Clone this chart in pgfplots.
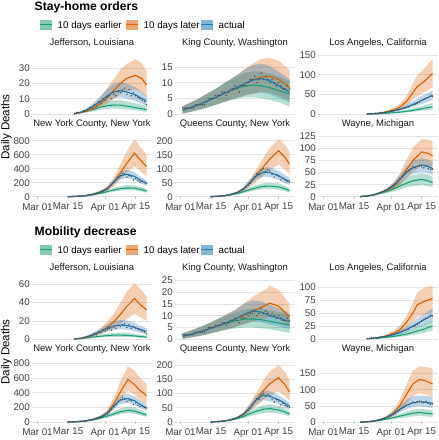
\documentclass[border=0pt]{standalone}
\usepackage{pgfplots}
\pgfplotsset{compat=1.18}
\usepackage{pgfplotstable}
\usepgfplotslibrary{fillbetween}
\usepackage{fontspec}
\setmainfont{Liberation Sans}
\definecolor{cG}{HTML}{1B9E77}
\definecolor{cO}{HTML}{D95F02}
\definecolor{cB}{HTML}{1F78B4}

% ---------------- observed deaths (shared by both sections) ----------------
\pgfplotstableread{
d y
17 0
18 1
19 1
20 1
21 2
22 2
23 3
24 4
25 4
26 6
27 5
28 8
29 7
30 10
31 9
32 11
33 12
34 10
35 13
36 12
37 15
38 14
39 16
40 17
41 13
42 16
43 12
44 14
45 12
46 11
47 10
48 9
49 8
50 6
}\obsJef
\pgfplotstableread{
d y
1 2
2 2
3 2
4 2
5 2
6 2
7 3
8 3
9 3
10 3
11 3
12 4
13 5
14 5
15 5
16 6
17 6
18 6
19 7
20 7
21 6
22 7
23 8
24 8
25 9
26 8
27 7
28 9
29 9
30 9
31 10
32 11
33 11
34 12
35 10
36 11
37 13
38 11
39 12
40 11
41 10
42 11
43 10
44 9
45 10
46 9
47 8
48 8
49 9
50 8
}\obsKing
\pgfplotstableread{
d y
20 1
21 1
22 2
23 2
24 3
25 2
26 4
27 4
28 5
29 6
30 6
31 8
32 9
33 10
34 11
35 12
36 14
37 16
38 17
39 19
40 22
41 24
42 25
43 28
44 31
45 35
46 38
47 40
48 42
49 46
50 45
}\obsLA
\pgfplotstableread{
d y
14 0
15 2
16 3
17 5
18 5
19 8
20 10
21 12
22 15
23 20
24 25
25 30
26 35
27 45
28 55
29 65
30 75
31 95
32 110
33 140
34 170
35 210
36 240
37 280
38 300
39 330
40 320
41 280
42 300
43 290
44 240
45 260
46 230
47 210
48 220
49 200
50 190
}\obsNYC
\pgfplotstableread{
d y
14 0
15 0
16 1
17 1
18 2
19 3
20 3
21 5
22 6
23 8
24 10
25 12
26 15
27 18
28 22
29 27
30 33
31 40
32 48
33 60
34 72
35 82
36 80
37 95
38 100
39 90
40 96
41 92
42 80
43 70
44 78
45 72
46 60
47 65
48 58
49 55
50 52
}\obsQueens
\pgfplotstableread{
d y
17 0
18 1
19 1
20 2
21 2
22 3
23 4
24 5
25 7
26 9
27 10
28 12
29 15
30 18
31 20
32 24
33 28
34 33
35 38
36 42
37 47
38 52
39 55
40 58
41 62
42 60
43 63
44 65
45 62
46 60
47 64
48 58
49 56
50 57
}\obsWayne

% ---------------- Stay-home orders: model fits ----------------
\pgfplotstableread{
d g gl gu o ol ou b bl bu
17 0.3 0.2 0.4 0.3 0.2 0.4 0.3 0.2 0.4
20 1 0.6 1.5 1 0.6 1.6 1.2 0.7 1.8
23 2 1.2 3 2.2 1.3 3.5 3 2 4.3
26 3.2 2 5 4 2.5 6.5 5.5 3.5 8
29 4.5 2.8 7 7 4.5 11 8.5 6 12
32 5.5 3.4 8.5 11 7 17 12 8.5 16.5
35 5.9 3.6 9 15.5 10 23 14.5 10.5 20
38 5.8 3.4 9 20 13 29 15.3 11 21
41 5.2 3 8.2 23.5 15 33 14.5 10 20
45 4.2 2.4 7 25.4 16 36 12.5 8.5 17.5
48 3.4 1.9 6 23 14 33 10 6.5 14
50 2.8 1.5 5 19 11 28 8.5 5.5 12
}\tSjef
\pgfplotstableread{
d g gl gu o ol ou b bl bu
1 1.3 0.2 2.6 1.3 0.2 2.6 1.3 0.2 2.6
5 2.2 0.8 3.8 2.2 0.8 3.8 2.2 0.8 3.8
9 3.2 1.5 5.2 3.2 1.5 5.2 3.2 1.5 5.2
13 4.4 2.3 6.8 4.4 2.3 6.8 4.4 2.3 6.8
17 5.6 3.2 8.4 5.6 3.2 8.4 5.6 3.2 8.4
21 6.9 4.1 10.2 6.9 4.1 10.2 6.9 4.1 10.2
25 8.0 4.8 11.8 8.2 5 12 8.2 5 12
29 8.9 5.3 13 9.5 5.8 14 9.6 5.9 14
33 9.2 5.4 13.6 10.8 6.5 16 10.8 6.6 15.5
37 9.0 5.1 13.5 11.8 7 17.5 11.3 6.9 16
41 8.4 4.5 13 12 6.8 17.8 10.6 6.3 15.2
45 7.5 3.8 12 11 6 17 9 5.2 13.5
50 6.4 2.5 10.5 8.5 4.3 14 7 3.8 11
}\tSking
\pgfplotstableread{
d g gl gu o ol ou b bl bu
20 0.5 0.3 0.8 0.5 0.3 0.8 0.5 0.3 0.8
24 1.2 0.7 1.8 2 1.2 3 2 1.4 2.8
28 2.5 1.5 3.8 5 3 7.5 4.5 3.2 6
32 4 2.5 6 11 7 16 8.5 6 11.5
35 5.5 3.5 8.5 18 12 26 13 9 17
38 7.5 4.8 11 32 21 46 18 13 24
41 10 6.5 15 55 36 78 25 18 33
43 12 7.8 18 70 46 98 30 22 40
46 15 9.5 22 82 55 115 38 28 49
50 19 12 29 103 68 140 48 36 60
}\tSla
\pgfplotstableread{
d g gl gu o ol ou b bl bu
14 1 0.5 1.5 1 0.5 1.5 1 0.5 1.5
18 4 3 5 5 3 7 5 4 6
22 12 9 15 15 10 20 15 12 18
26 30 22 40 40 28 55 40 33 48
29 50 37 65 70 50 95 70 58 85
32 72 54 95 110 80 150 115 95 140
35 95 72 125 205 150 270 210 175 250
38 115 87 150 340 250 460 300 250 360
41 125 95 165 480 350 650 320 265 385
44.5 122 92 160 620 440 820 290 240 350
47 105 78 140 530 370 720 240 195 290
50 80 58 110 430 290 600 190 150 235
}\tSnyc
\pgfplotstableread{
d g gl gu o ol ou b bl bu
14 0.5 0.3 0.8 0.5 0.3 0.8 0.5 0.3 0.8
18 2 1.4 2.6 2 1.4 2.6 2 1.5 2.5
22 5 3.5 6.5 6 4 8 6 4.5 7.5
26 11 8 14 15 11 19 15 12 18
29 18 13 23 28 20 36 28 22 34
32 26 19 34 50 36 65 52 42 62
35 32 23 42 78 55 100 75 62 90
38 37 27 48 107 75 140 88 72 105
41 38 27 50 135 95 175 86 70 104
45 35 25 47 164 115 205 75 60 92
48 28 19 38 140 97 185 62 48 77
50 22 15 30 116 80 160 55 42 68
}\tSqueens
\pgfplotstableread{
d g gl gu o ol ou b bl bu
17 0.5 0.3 0.8 0.5 0.3 0.8 0.5 0.3 0.8
20 1.4 1 2 1.5 1 2 1.5 1.1 2
23 3.5 2.5 5 4 2.8 5.5 4 3 5
26 7 5 9.5 8 5.5 11 8 6 10
29 11 7.5 15 13 9 18 14 10.5 17
32 16 11 22 20 14 28 23 17 29
35 22 15 30 35 24 48 36 27 45
38 28 19 38 56 38 76 50 38 62
41 33 22 45 75 52 102 60 47 74
45 36 24 49 93 64 120 66 52 80
48 33 22 46 90 60 118 63 49 77
50 29 19 41 85 56 115 58 45 72
}\tSwayne

% ---------------- Mobility decrease: model fits ----------------
\pgfplotstableread{
d g gl gu o ol ou b bl bu
17 0.3 0.2 0.4 0.3 0.2 0.4 0.3 0.2 0.4
20 0.8 0.5 1.2 1 0.6 1.5 1.2 0.7 1.8
23 1.6 1 2.4 2.5 1.6 3.5 3 2 4.3
26 2.5 1.5 3.8 5 3.3 7 5.5 3.5 8
29 3.3 2 5 8.5 5.5 12 8.5 6 12
32 4 2.4 6.2 13 8.5 19 12 8.5 16.5
35 4.5 2.7 7 19 12 28 14.5 10.5 20
38 4.6 2.7 7.3 27 17 40 15.5 11 21
41 4.3 2.5 7 36 22 52 15 10.5 20.5
44.5 3.6 2.1 6 44.5 28 61 13 9 18
47 3 1.7 5 38 24 55 11 7 15
50 2.3 1.3 4 32 20 47 8.5 5.5 12
}\tMjef
\pgfplotstableread{
d g gl gu o ol ou b bl bu
1 1.3 0.2 2.6 1.3 0.2 2.6 1.3 0.2 2.6
5 2.2 0.8 3.8 2.2 0.8 3.8 2.2 0.8 3.8
9 3.2 1.5 5.2 3.2 1.5 5.2 3.2 1.5 5.2
13 4.4 2.3 6.8 4.4 2.3 6.8 4.4 2.3 6.8
17 5.6 3.2 8.4 5.6 3.2 8.6 5.6 3.2 8.6
21 6.8 4 10 7 4.2 10.5 7 4.2 10.5
25 7.8 4.6 11.5 8.5 5.2 12.5 8.5 5.2 12.5
29 8.5 5 12.5 10 6.3 15 10.5 6.5 15
33 8.6 5 13 12 7.5 18 12 7.5 16.5
37 8.3 4.7 12.8 13.5 8.5 20 11.5 7.2 16
41 7.6 4.2 12.2 15.3 9.5 22.5 10 6.2 14.5
45 6.9 3.6 11.5 14 8.5 21 9 5.5 13.2
50 6 2.8 10.5 9.5 5.5 15 7.5 4.3 11
}\tMking
\pgfplotstableread{
d g gl gu o ol ou b bl bu
20 0.5 0.3 0.8 0.5 0.3 0.8 0.5 0.3 0.8
24 1.3 0.8 2 2 1.2 3 2 1.4 2.8
28 2.8 1.7 4 5 3 7.5 4.5 3.2 6
32 5 3 7.5 11 7 16 8.5 6 11.5
35 7 4.3 10.5 18 12 26 13 9 17
38 9.5 6 14 32 21 44 18 13 24
41 13 8 19 50 33 70 25 18 33
43 15.5 9.5 23 66 43 90 30 22 40
46 19 12 28 72 47 98 37 27 48
50 25 16 35 78 52 103 46 34 59
}\tMla
\pgfplotstableread{
d g gl gu o ol ou b bl bu
14 1 0.5 1.5 1 0.5 1.5 1 0.5 1.5
18 4 3 5 5 3 7 5 4 6
22 12 9 15 15 10 20 15 12 18
26 32 24 42 40 28 55 40 33 48
29 55 41 72 72 50 95 72 58 85
32 80 60 105 125 90 165 120 95 145
35 110 82 145 250 180 330 220 180 265
38 140 105 185 410 300 560 300 245 360
41.5 160 120 210 580 430 760 320 260 385
44.5 150 112 198 510 370 700 290 235 350
47 125 93 165 430 300 600 240 190 295
50 95 70 128 360 240 520 190 150 235
}\tMnyc
\pgfplotstableread{
d g gl gu o ol ou b bl bu
14 0.5 0.3 0.8 0.5 0.3 0.8 0.5 0.3 0.8
18 2 1.4 2.6 2 1.4 2.6 2 1.5 2.5
22 5 3.5 6.5 6 4 8 6 4.5 7.5
26 12 9 15 15 11 19 15 12 18
29 20 14 26 28 20 36 28 22 34
32 30 21 39 52 37 68 52 42 62
35 38 27 50 80 56 105 80 65 95
38 45 32 59 110 77 145 95 77 113
41 47 33 62 135 95 178 90 72 108
45 42 30 57 155 108 200 78 62 94
48 35 24 47 130 90 175 65 51 79
50 28 19 38 105 72 145 55 43 68
}\tMqueens
\pgfplotstableread{
d g gl gu o ol ou b bl bu
17 0.5 0.3 0.8 0.5 0.3 0.8 0.5 0.3 0.8
20 1.3 0.9 1.8 1.5 1 2 1.5 1.1 2
23 3 2 4 4 2.8 5.5 4 3 5
26 6 4 8 8 5.5 11 8 6 10
29 10 6.5 13 15 10 20 15 11 19
32 14 9 19 28 19 38 26 19 34
35 19 12.5 26 52 35 70 40 30 52
38 24 16 33 85 57 115 52 40 68
41 28 18 38 118 80 160 60 47 80
44 30 20 41 132 90 172 63 49 82
47 28 18 40 127 85 170 62 47 82
50 26 16 37 118 78 165 58 44 78
}\tMwayne

\pgfplotsset{
  panel/.style={
    scale only axis, width=120bp, height=63bp,
    anchor=north west,
    xmin=-2.5, xmax=52.5,
    axis line style={draw=none},
    xtick={0,14,31,45},
    xticklabels={Mar 01,Mar 15,Apr 01,Apr 15},
    ymajorgrids,
    grid style={color=black!11, line width=0.6bp},
    tick style={color=black!22, line width=0.6bp},
    major tick length=3bp,
    tick align=inside,
    tick pos=left,
    ytick style={draw=none},
    ticklabel style={font=\fontsize{9.8}{11}\selectfont, color=black!75, inner sep=0pt},
    yticklabel style={xshift=-2bp},
    xticklabel style={anchor=north, yshift=-4bp},
    /pgf/number format/assume math mode=true,
    title style={font=\fontsize{9.5}{11}\selectfont, color=black!90, at={(0.5,1)}, anchor=base, yshift=3.5bp, inner sep=0pt},
  },
  row1/.style={xticklabels={}, xtick style={draw=none}},
  row2/.style={},
}

\newcommand{\panel}[9]{%
\begin{axis}[panel, at={(#1bp,-#2bp)}, ymin=#3, ymax=#4, ytick={#5}, title={#6}, #9]
\addplot[draw=none, name path=gu] table[x=d,y=gu]{#7};
\addplot[draw=none, name path=gl] table[x=d,y=gl]{#7};
\addplot[draw=none, name path=ou] table[x=d,y=ou]{#7};
\addplot[draw=none, name path=ol] table[x=d,y=ol]{#7};
\addplot[draw=none, name path=bu] table[x=d,y=bu]{#7};
\addplot[draw=none, name path=bl] table[x=d,y=bl]{#7};
\addplot[fill=cG, fill opacity=0.33, draw=none] fill between[of=gu and gl];
\addplot[fill=cO, fill opacity=0.3, draw=none] fill between[of=ou and ol];
\addplot[fill=cB, fill opacity=0.3, draw=none] fill between[of=bu and bl];
\addplot[cG, line width=1.1bp] table[x=d,y=g]{#7};
\addplot[cO, line width=1.1bp] table[x=d,y=o]{#7};
\addplot[cB, line width=1.1bp] table[x=d,y=b]{#7};
\addplot[only marks, mark=*, mark size=0.55bp, black!70, opacity=0.8] table[x=d,y=y]{#8};
\end{axis}}

\newcommand{\legendrow}[1]{%
  \begin{scope}[yshift=-#1bp]
  \fill[cG, fill opacity=0.55] (40bp,-19.5bp) rectangle (52bp,-29.5bp);
  \draw[cG, line width=1.1bp] (40bp,-24.5bp) -- (52bp,-24.5bp);
  \node[anchor=base west, inner sep=0pt, font=\fontsize{9.8}{11}\selectfont] at (57.5bp,-28bp) {10 days earlier};
  \fill[cO, fill opacity=0.55] (126bp,-19.5bp) rectangle (138bp,-29.5bp);
  \draw[cO, line width=1.1bp] (126bp,-24.5bp) -- (138bp,-24.5bp);
  \node[anchor=base west, inner sep=0pt, font=\fontsize{9.8}{11}\selectfont] at (143.5bp,-28bp) {10 days later};
  \fill[cB, fill opacity=0.55] (201bp,-19.5bp) rectangle (213bp,-29.5bp);
  \draw[cB, line width=1.1bp] (201bp,-24.5bp) -- (213bp,-24.5bp);
  \node[anchor=base west, inner sep=0pt, font=\fontsize{9.8}{11}\selectfont] at (218.5bp,-28bp) {actual};
  \end{scope}}

\begin{document}
\begin{tikzpicture}
% ===== Stay-home orders =====
\node[anchor=base west, inner sep=0pt, font=\bfseries\fontsize{12.2}{14}\selectfont] at (34.5bp,-10.5bp) {Stay-home orders};
\legendrow{0}
\node[rotate=90, inner sep=0pt, font=\fontsize{11.6}{13}\selectfont] at (6.5bp,-127bp) {Daily Deaths};

\panel{32}{54.5}{-2.3}{39.07}{0,10,20,30}{Jefferson, Louisiana}{\tSjef}{\obsJef}{row1}
\panel{175}{54.5}{-1.02}{18.9}{0,5,10,15}{King County, Washington}{\tSking}{\obsKing}{row1}
\panel{318}{54.5}{-8}{151}{0,50,100,150}{Los Angeles, California}{\tSla}{\obsLA}{row1}
\panel{32}{136}{-33}{867}{0,200,400,600,800}{New York County, New York}{\tSnyc}{\obsNYC}{row2}
\panel{175}{136}{-8.2}{216.8}{0,50,100,150,200}{Queens County, New York}{\tSqueens}{\obsQueens}{row2}
\panel{318}{136}{-4.7}{126}{0,25,50,75,100,125}{Wayne, Michigan}{\tSwayne}{\obsWayne}{row2}

% ===== Mobility decrease =====
\node[anchor=base west, inner sep=0pt, font=\bfseries\fontsize{12.2}{14}\selectfont] at (34.5bp,-235.5bp) {Mobility decrease};
\legendrow{225}
\node[rotate=90, inner sep=0pt, font=\fontsize{11.6}{13}\selectfont] at (6.5bp,-352bp) {Daily Deaths};

\panel{32}{279.5}{-3.5}{65.1}{0,20,40,60}{Jefferson, Louisiana}{\tMjef}{\obsJef}{row1}
\panel{175}{279.5}{-1.35}{25.3}{0,5,10,15,20,25}{King County, Washington}{\tMking}{\obsKing}{row1}
\panel{318}{279.5}{-6.7}{114.7}{0,25,50,75,100}{Los Angeles, California}{\tMla}{\obsLA}{row1}
\panel{32}{361}{-27}{832}{0,200,400,600,800}{New York County, New York}{\tMnyc}{\obsNYC}{row2}
\panel{175}{361}{-7}{214}{0,50,100,150,200}{Queens County, New York}{\tMqueens}{\obsQueens}{row2}
\panel{318}{361}{-5.3}{188.5}{0,50,100,150}{Wayne, Michigan}{\tMwayne}{\obsWayne}{row2}

\path (0,0) rectangle (439bp,-440bp);
\end{tikzpicture}
\end{document}
